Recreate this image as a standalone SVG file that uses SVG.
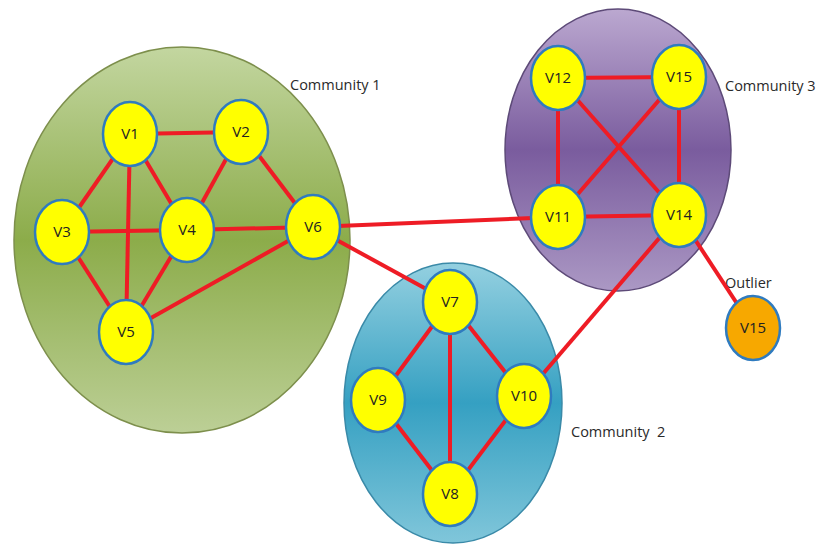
<svg xmlns="http://www.w3.org/2000/svg" width="817" height="546" viewBox="0 0 817 546">
<defs>
<linearGradient id="gGreen" x1="0" y1="0" x2="0" y2="1">
<stop offset="0" stop-color="#c3d6a0"/>
<stop offset="0.5" stop-color="#8cac4a"/>
<stop offset="1" stop-color="#bccf96"/>
</linearGradient>
<linearGradient id="gBlue" x1="0" y1="0" x2="0" y2="1">
<stop offset="0" stop-color="#94d0e0"/>
<stop offset="0.5" stop-color="#35a0c2"/>
<stop offset="1" stop-color="#80c6da"/>
</linearGradient>
<linearGradient id="gPurple" x1="0" y1="0" x2="0" y2="1">
<stop offset="0" stop-color="#bba8d0"/>
<stop offset="0.5" stop-color="#7a5c9e"/>
<stop offset="1" stop-color="#ab98c4"/>
</linearGradient>
</defs>
<style>
.comm{stroke-width:1.5}
.edge{stroke:#ee1c25;stroke-width:4;fill:none}
.node ellipse{fill:#ffff00;stroke:#2f7bbf;stroke-width:2.5}
.node.out ellipse{fill:#f7a800}
.node text{font-family:"Open Sans","Liberation Sans",sans-serif;font-size:15px;fill:#222;text-anchor:middle}
.lbl{font-family:"Open Sans","Liberation Sans",sans-serif;font-size:14.5px;fill:#2a2a2a}
</style>
<rect width="817" height="546" fill="#ffffff"/>
<g id="communities">
<ellipse id="community1" class="comm" cx="182" cy="240" rx="168" ry="193" fill="url(#gGreen)" stroke="#7d8f4c"/>
<ellipse id="community2" class="comm" cx="453" cy="403" rx="109" ry="140" fill="url(#gBlue)" stroke="#3a8aa8"/>
<ellipse id="community3" class="comm" cx="618" cy="150" rx="113" ry="141" fill="url(#gPurple)" stroke="#5d4a78"/>
</g>
<g id="labels">
<text class="lbl" x="290" y="90">Community 1</text>
<text class="lbl" x="725" y="91">Community 3</text>
<text class="lbl" x="725" y="288">Outlier</text>
<text class="lbl" x="571" y="437" xml:space="preserve">Community  2</text>
</g>
<g id="connectors">
<line class="edge" x1="130" y1="134" x2="241" y2="132"/>
<line class="edge" x1="130" y1="134" x2="62" y2="232"/>
<line class="edge" x1="130" y1="134" x2="187" y2="230"/>
<line class="edge" x1="130" y1="134" x2="126" y2="332"/>
<line class="edge" x1="241" y1="132" x2="187" y2="230"/>
<line class="edge" x1="241" y1="132" x2="313" y2="227"/>
<line class="edge" x1="62" y1="232" x2="187" y2="230"/>
<line class="edge" x1="62" y1="232" x2="126" y2="332"/>
<line class="edge" x1="187" y1="230" x2="126" y2="332"/>
<line class="edge" x1="187" y1="230" x2="313" y2="227"/>
<line class="edge" x1="126" y1="332" x2="313" y2="227"/>
<line class="edge" x1="313" y1="227" x2="558" y2="217"/>
<line class="edge" x1="313" y1="227" x2="450" y2="302"/>
<line class="edge" x1="450" y1="302" x2="378" y2="400"/>
<line class="edge" x1="450" y1="302" x2="450" y2="494"/>
<line class="edge" x1="450" y1="302" x2="524" y2="396"/>
<line class="edge" x1="378" y1="400" x2="450" y2="494"/>
<line class="edge" x1="524" y1="396" x2="450" y2="494"/>
<line class="edge" x1="524" y1="396" x2="679" y2="215"/>
<line class="edge" x1="558" y1="78" x2="679" y2="77"/>
<line class="edge" x1="558" y1="78" x2="558" y2="217"/>
<line class="edge" x1="558" y1="78" x2="679" y2="215"/>
<line class="edge" x1="679" y1="77" x2="558" y2="217"/>
<line class="edge" x1="679" y1="77" x2="679" y2="215"/>
<line class="edge" x1="558" y1="217" x2="679" y2="215"/>
<line class="edge" x1="679" y1="215" x2="753" y2="328"/>
</g>
<g id="V1" class="node"><ellipse cx="130" cy="134" rx="27" ry="32"/><text x="130" y="139">V1</text></g>
<g id="V2" class="node"><ellipse cx="241" cy="132" rx="27" ry="32"/><text x="241" y="137">V2</text></g>
<g id="V3" class="node"><ellipse cx="62" cy="232" rx="27" ry="32"/><text x="62" y="237">V3</text></g>
<g id="V4" class="node"><ellipse cx="187" cy="230" rx="27" ry="32"/><text x="187" y="235">V4</text></g>
<g id="V5" class="node"><ellipse cx="126" cy="332" rx="27" ry="32"/><text x="126" y="337">V5</text></g>
<g id="V6" class="node"><ellipse cx="313" cy="227" rx="27" ry="32"/><text x="313" y="232">V6</text></g>
<g id="V7" class="node"><ellipse cx="450" cy="302" rx="27" ry="32"/><text x="450" y="307">V7</text></g>
<g id="V9" class="node"><ellipse cx="378" cy="400" rx="27" ry="32"/><text x="378" y="405">V9</text></g>
<g id="V10" class="node"><ellipse cx="524" cy="396" rx="27" ry="32"/><text x="524" y="401">V10</text></g>
<g id="V8" class="node"><ellipse cx="450" cy="494" rx="27" ry="32"/><text x="450" y="499">V8</text></g>
<g id="V12" class="node"><ellipse cx="558" cy="78" rx="27" ry="32"/><text x="558" y="83">V12</text></g>
<g id="V15" class="node"><ellipse cx="679" cy="77" rx="27" ry="32"/><text x="679" y="82">V15</text></g>
<g id="V11" class="node"><ellipse cx="558" cy="217" rx="27" ry="32"/><text x="558" y="222">V11</text></g>
<g id="V14" class="node"><ellipse cx="679" cy="215" rx="27" ry="32"/><text x="679" y="220">V14</text></g>
<g id="V15-outlier" class="node out"><ellipse cx="753" cy="328" rx="27" ry="32"/><text x="753" y="333">V15</text></g>
</svg>
